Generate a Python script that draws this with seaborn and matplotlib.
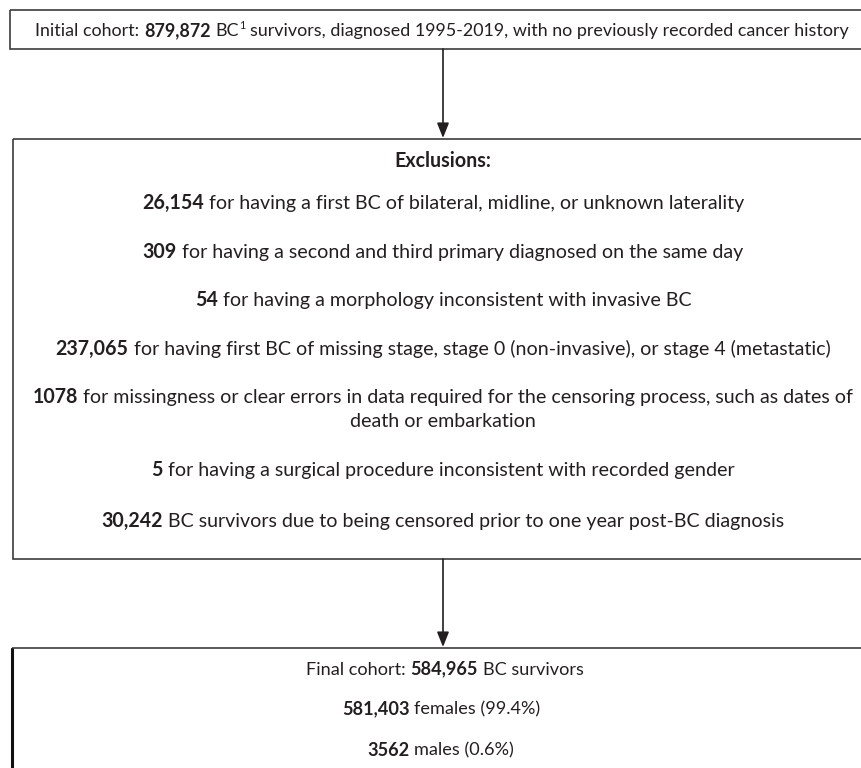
import matplotlib
matplotlib.use("Agg")
import matplotlib.pyplot as plt
from matplotlib.patches import Rectangle
import seaborn as sns

# --- chart content ---
initial_count = "879,872"
initial_pre = "Initial cohort:"
initial_post = "survivors, diagnosed 1995-2019, with no previously recorded cancer history"

exclusion_title = "Exclusions:"
exclusion_counts = ["26,154", "309", "54", "237,065", "1078", "5", "30,242"]
exclusion_reasons = [
    "for having a first BC of bilateral, midline, or unknown laterality",
    "for having a second and third primary diagnosed on the same day",
    "for having a morphology inconsistent with invasive BC",
    "for having first BC of missing stage, stage 0 (non-invasive), or stage 4 (metastatic)",
    "for missingness or clear errors in data required for the censoring process, such as dates of\ndeath or embarkation",
    "for having a surgical procedure inconsistent with recorded gender",
    "BC survivors due to being censored prior to one year post-BC diagnosis",
]

final_count = "584,965"
sex_labels = ["females", "males"]
sex_counts = ["581,403", "3562"]
sex_pcts = ["99.4%", "0.6%"]

INK = "#231f20"
EDGE = "#3c3c3c"

sns.set_theme(style="white")
plt.rcParams["font.family"] = ["Lato", "DejaVu Sans"]

W, H = 861, 768
fig = plt.figure(figsize=(W / 100, H / 100), dpi=100)
ax = fig.add_axes([0, 0, 1, 1])
ax.set_xlim(0, W)
ax.set_ylim(H, 0)
ax.axis("off")
renderer = fig.canvas.get_renderer()


def text_width(s, size, weight="normal"):
    t = ax.text(0, 0, s, fontsize=size, fontweight=weight)
    w = t.get_window_extent(renderer).width
    t.remove()
    return w


def line_width(parts, size):
    space = text_width("x x", size) - text_width("xx", size)
    total = 0
    for i, (txt, kind) in enumerate(parts):
        if kind == "sup":
            total += text_width(txt, size * 0.6)
        else:
            total += text_width(txt, size, "bold" if kind == "bold" else "normal")
            if i > 0:
                total += space
    return total


def put_line(y, parts, size, cx=443):
    # parts: list of (text, kind) with kind in regular / bold / sup
    space = text_width("x x", size) - text_width("xx", size)
    em = size * 100 / 72
    base = y + 0.36 * em
    objs = []
    for txt, kind in parts:
        fs = size * 0.6 if kind == "sup" else size
        wt = "bold" if kind == "bold" else "normal"
        t = ax.text(0, base, txt, fontsize=fs, fontweight=wt, color=INK,
                    ha="left", va="baseline")
        objs.append((t, kind, t.get_window_extent(renderer).width))
    total = sum(o[2] for o in objs)
    total += space * sum(1 for i, o in enumerate(objs) if i > 0 and o[1] != "sup")
    x = cx - total / 2
    for i, (t, kind, w) in enumerate(objs):
        if i > 0 and kind != "sup":
            x += space
        t.set_x(x)
        if kind == "sup":
            t.set_y(base - 0.42 * em)
        x += w


def box(x0, y0, y1, thick_left=False):
    ax.add_patch(Rectangle((x0, y0), W + 20 - x0, y1 - y0, fill=False,
                           edgecolor=EDGE, linewidth=1.2))
    if thick_left:
        ax.plot([x0, x0], [y0, y1], color="#111111", linewidth=2.2,
                solid_capstyle="butt")


def arrow(x, y0, y1):
    ax.annotate("", xy=(x, y1), xytext=(x, y0),
                arrowprops=dict(arrowstyle="-|>,head_length=0.5,head_width=0.2",
                                color=INK, lw=1.2, shrinkA=0, shrinkB=0,
                                mutation_scale=18))


initial_parts = [(initial_pre, "regular"), (initial_count, "bold"), ("BC", "regular"),
                 ("1", "sup"), (initial_post, "regular")]
long_parts = [(exclusion_counts[3], "bold"), (exclusion_reasons[3], "regular")]

# font sizes chosen so the widest lines span about as much as in the reference
FS = 20 * 778 / line_width(long_parts, 20)
FS_TOP = 20 * 812 / line_width(initial_parts, 20)
FS_FINAL = FS * 0.92

# initial cohort box
box(10, 10, 49)
put_line(30, initial_parts, FS_TOP, cx=442)

arrow(443, 49, 138)

# exclusions box
box(13, 139, 559)
put_line(160, [(exclusion_title, "bold")], FS)
line_y = [202, 251, 299, 348, 396, 469, 520]
for y, cnt, reason in zip(line_y, exclusion_counts, exclusion_reasons):
    rows = reason.split("\n")
    put_line(y, [(cnt, "bold"), (rows[0], "regular")], FS)
    for k, extra in enumerate(rows[1:], start=1):
        put_line(y + 24 * k, [(extra, "regular")], FS)

arrow(443, 559, 647)

# final cohort box
box(12, 648, H + 20, thick_left=True)
put_line(668, [("Final cohort:", "regular"), (final_count, "bold"),
               ("BC survivors", "regular")], FS_FINAL, cx=445)
for y, cnt, lab, pct in zip([708, 749], sex_counts, sex_labels, sex_pcts):
    put_line(y, [(cnt, "bold"), (f"{lab} ({pct})", "regular")], FS_FINAL, cx=441)

fig.savefig("out.png", dpi=100)
